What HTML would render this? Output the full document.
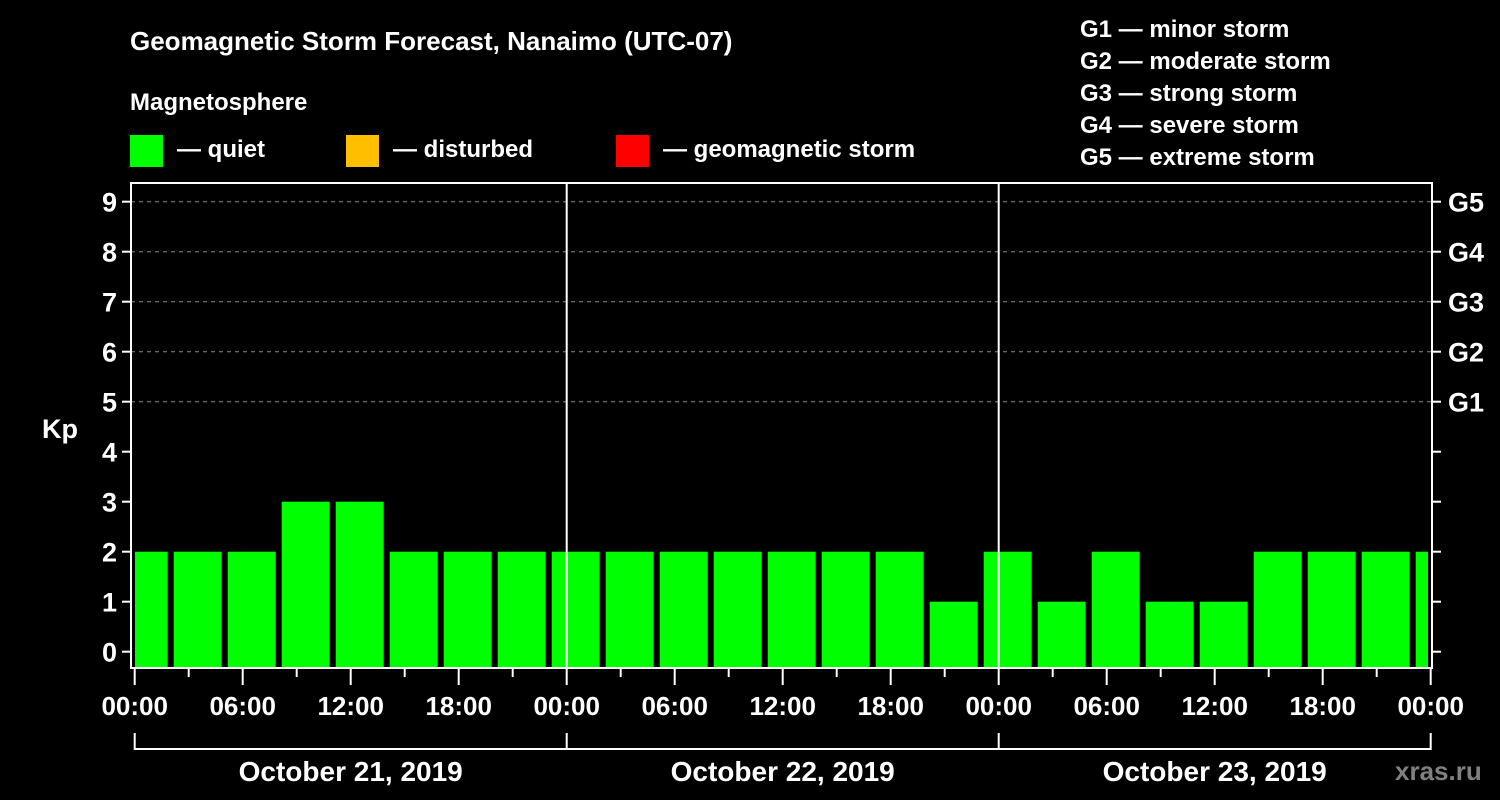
<!DOCTYPE html>
<html><head><meta charset="utf-8"><style>
html,body{margin:0;padding:0;background:#000;}
svg{display:block;font-family:"Liberation Sans",Arial,sans-serif;font-weight:bold;}
</style></head><body>
<svg id="chart" width="1500" height="800" viewBox="0 0 1500 800" xmlns="http://www.w3.org/2000/svg">
<rect width="1500" height="800" fill="#000"/>
<text x="130" y="50" fill="#fff" font-size="26">Geomagnetic Storm Forecast, Nanaimo (UTC-07)</text>
<text x="130" y="110" fill="#fff" font-size="24">Magnetosphere</text>
<rect x="130" y="135" width="33" height="32" fill="#00ff00"/>
<text x="177" y="157" fill="#fff" font-size="24">— quiet</text>
<rect x="346" y="135" width="33" height="32" fill="#ffbf00"/>
<text x="393" y="157" fill="#fff" font-size="24">— disturbed</text>
<rect x="616" y="135" width="33" height="32" fill="#ff0000"/>
<text x="663" y="157" fill="#fff" font-size="24">— geomagnetic storm</text>
<g fill="#fff" font-size="24">
<text x="1080" y="37">G1 — minor storm</text>
<text x="1080" y="69">G2 — moderate storm</text>
<text x="1080" y="101">G3 — strong storm</text>
<text x="1080" y="133">G4 — severe storm</text>
<text x="1080" y="165">G5 — extreme storm</text>
</g>
<text x="42" y="438" fill="#fff" font-size="27">Kp</text>
<text x="1395" y="780" fill="#808080" font-size="26">xras.ru</text>
<g id="grid"></g><g id="bars"></g><g id="axes"></g>
</svg>
<script>
const kp = [2,2,2,3,3,2,2,2,2,2,2,2,2,2,2,1,2,1,2,1,1,2,2,2,2];
const yTicks = [0,1,2,3,4,5,6,7,8,9];
const gLabels = ["G1","G2","G3","G4","G5"];
const gLevels = [5,6,7,8,9];
const hourLabels = ["00:00","06:00","12:00","18:00","00:00","06:00","12:00","18:00","00:00","06:00","12:00","18:00","00:00"];
const dayLabels = ["October 21, 2019","October 22, 2019","October 23, 2019"];
const NS="http://www.w3.org/2000/svg";
const L=131,R=1432,T=183,B=668;
function xs(h){return 134.7+h*18;}
function ys(v){return 651.7-v*50;}
function mk(tag,attrs,parent){const e=document.createElementNS(NS,tag);for(const k in attrs)e.setAttribute(k,attrs[k]);parent.appendChild(e);return e;}
const grid=document.getElementById('grid'),bars=document.getElementById('bars'),axes=document.getElementById('axes');
gLevels.forEach((v,i)=>{
  const ln=mk('line',{x1:L,x2:R,y1:ys(v),y2:ys(v),stroke:'#888','stroke-width':1,'stroke-dasharray':'4,4'},grid);
  
  
  const tk=mk('line',{x1:R,x2:R+9,y1:ys(v),y2:ys(v),stroke:'#fff','stroke-width':2},axes);
  
  
  const t=mk('text',{x:1448,y:ys(v)+10,fill:'#fff','font-size':27},axes);
  t.textContent=gLabels[i];
  
  
});
[0,1,2,3,4].forEach(v=>{
  const tk=mk('line',{x1:R,x2:R+9,y1:ys(v),y2:ys(v),stroke:'#fff','stroke-width':2},axes);
  
  
});
kp.forEach((v,i)=>{
  const c=0.5+3*i;
  let x0=xs(c-4/3),x1=xs(c+4/3);
  x0=Math.max(x0,L+4);x1=Math.min(x1,R-4);
  const r=mk('rect',{x:x0,y:ys(v),width:x1-x0,height:B-ys(v),fill:v>=5?'#ff0000':(v>=4?'#ffbf00':'#00ff00')},bars);
  
  
});
// frame
const fr=mk('path',{d:`M${L},${B} L${L},${T} L${R},${T} L${R},${B} Z`,fill:'none',stroke:'#fff','stroke-width':2},axes);


[24,48].forEach(h=>{
  const d=mk('line',{x1:xs(h),x2:xs(h),y1:T,y2:B,stroke:'#fff','stroke-width':2},axes);
  
  
});
yTicks.forEach(v=>{
  const tk=mk('line',{x1:L-9,x2:L,y1:ys(v),y2:ys(v),stroke:'#fff','stroke-width':2},axes);
  
  
  const t=mk('text',{x:117,y:ys(v)+10,fill:'#fff','font-size':27,'text-anchor':'end'},axes);
  t.textContent=v;
  
  
});
for(let h=0;h<=72;h+=3){
  const major=h%6===0;
  const tk=mk('line',{x1:xs(h),x2:xs(h),y1:B,y2:B+(major?17:9),stroke:'#fff','stroke-width':2},axes);
  
  
}
hourLabels.forEach((s,i)=>{
  const t=mk('text',{x:xs(i*6),y:715,fill:'#fff','font-size':26,'text-anchor':'middle'},axes);
  t.textContent=s;
  
  
});
const br=mk('path',{d:`M${xs(0)},733 L${xs(0)},749 L${xs(72)},749 L${xs(72)},733 M${xs(24)},733 L${xs(24)},749 M${xs(48)},733 L${xs(48)},749`,fill:'none',stroke:'#fff','stroke-width':2},axes);


dayLabels.forEach((s,i)=>{
  const t=mk('text',{x:xs(12+24*i),y:781,fill:'#fff','font-size':28,'text-anchor':'middle'},axes);
  t.textContent=s;
  
  
});
</script>
</body></html>
